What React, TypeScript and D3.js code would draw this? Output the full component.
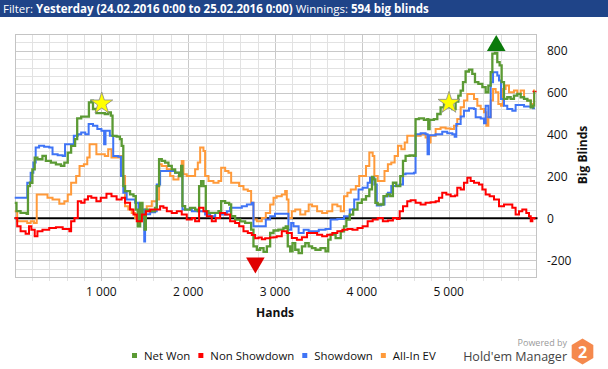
import React, { useEffect, useRef } from 'react';
import * as d3 from 'd3';

// hands played -> big blinds
const netWon: [number, number][] = [
  [0, 74], [23, 34], [70, 26], [140, 22], [155, 154], [178, 170], [206, 234], [233, 290], [264, 282], [322, 298],
  [361, 274], [419, 266], [477, 258], [535, 250], [574, 266], [613, 314], [652, 346], [698, 378], [722, 477], [768, 486],
  [826, 486], [857, 554], [885, 562], [904, 522], [943, 502], [993, 502], [1040, 498], [1079, 506], [1110, 490], [1129, 394],
  [1176, 390], [1214, 378], [1234, 346], [1253, 154], [1273, 130], [1331, 114], [1370, 106], [1397, 42], [1420, -38], [1447, 74],
  [1474, 10], [1498, -54], [1513, 42], [1542, 34], [1619, 50], [1638, 154], [1665, 282], [1696, 274], [1734, 266], [1773, 250],
  [1811, 234], [1850, 218], [1896, 202], [1919, 250], [1934, 58], [1965, 42], [2022, 50], [2080, 42], [2111, 34], [2126, 154],
  [2149, 178], [2176, 154], [2203, 34], [2234, 26], [2291, 26], [2349, 34], [2380, 82], [2426, 74], [2472, 66], [2495, 10],
  [2541, -6], [2599, -14], [2656, -22], [2702, -22], [2725, -54], [2752, -134], [2791, -150], [2829, -142], [2868, -160], [2906, -134],
  [2944, -70], [2983, -58], [3039, -54], [3097, -46], [3124, -38], [3147, -134], [3175, -158], [3202, -118], [3233, -150], [3272, -166],
  [3310, -134], [3349, -118], [3388, -134], [3427, -142], [3466, -150], [3524, -142], [3582, -158], [3613, -102], [3640, -78], [3698, -94],
  [3757, -62], [3795, -38], [3822, -6], [3861, 18], [3900, 42], [3950, 74], [4000, 90], [4048, 106], [4086, 138], [4117, 198],
  [4133, 186], [4156, 74], [4183, 66], [4222, 66], [4249, 106], [4288, 114], [4327, 106], [4358, 170], [4397, 154], [4428, 154],
  [4443, 202], [4474, 274], [4504, 298], [4550, 300], [4600, 298], [4619, 474], [4658, 477], [4715, 470], [4754, 474], [4765, 426],
  [4780, 470], [4830, 474], [4869, 498], [4907, 530], [4946, 546], [5003, 530], [5042, 522], [5080, 557], [5111, 586], [5138, 610],
  [5165, 650], [5195, 701], [5234, 710], [5272, 690], [5303, 650], [5342, 642], [5388, 626], [5426, 602], [5457, 634], [5484, 698],
  [5503, 786], [5533, 790], [5560, 746], [5587, 730], [5610, 650], [5637, 570], [5675, 578], [5714, 570], [5752, 586], [5791, 594],
  [5829, 578], [5868, 570], [5906, 562], [5945, 530], [5972, 538], [5987, 602], [5995, 602],
];

const nonShowdown: [number, number][] = [
  [0, 2], [31, -38], [70, -62], [128, -74], [167, -38], [194, -54], [233, -86], [264, -62], [322, -54], [400, -46],
  [477, -42], [555, -51], [632, -62], [652, -14], [691, 2], [729, 82], [768, 74], [807, 90], [846, 106], [885, 98],
  [943, 82], [993, 98], [1059, 118], [1117, 106], [1176, 90], [1234, 98], [1273, 74], [1331, 42], [1370, 18], [1408, -14],
  [1467, 18], [1513, 34], [1562, 42], [1619, 42], [1677, 58], [1715, 50], [1754, 34], [1811, 26], [1869, 34], [1926, 18],
  [1984, -6], [2042, 2], [2080, -14], [2126, 50], [2176, 34], [2215, 10], [2272, -14], [2318, 2], [2368, 26], [2426, 18],
  [2483, -14], [2541, -22], [2587, -38], [2637, -62], [2687, -70], [2733, -80], [2771, -95], [2810, -92], [2848, -100], [2887, -95],
  [2944, -92], [2983, -90], [3019, -86], [3078, -62], [3136, -70], [3194, -94], [3252, -102], [3310, -90], [3369, -70], [3427, -70],
  [3485, -78], [3543, -86], [3601, -78], [3660, -70], [3718, -62], [3776, -54], [3834, -51], [3892, -54], [3950, -46], [4009, -38],
  [4067, -14], [4125, -6], [4183, 2], [4242, -14], [4300, -10], [4358, 2], [4405, -3], [4436, 34], [4474, 58], [4523, 82],
  [4562, 86], [4619, 74], [4677, 66], [4734, 74], [4792, 77], [4850, 82], [4888, 98], [4926, 122], [4973, 114], [5023, 106],
  [5073, 109], [5099, 146], [5138, 138], [5176, 170], [5215, 194], [5253, 178], [5292, 170], [5349, 162], [5388, 138], [5426, 114],
  [5472, 106], [5522, 90], [5580, 58], [5637, 66], [5687, 66], [5733, 50], [5771, 18], [5810, 34], [5848, 42], [5894, 26],
  [5925, 10], [5945, -14], [5964, 2], [5994, -6],
];

const showdown: [number, number][] = [
  [0, 98], [128, 98], [147, 170], [186, 218], [217, 266], [244, 338], [283, 346], [341, 342], [400, 338], [438, 306],
  [497, 301], [555, 298], [582, 354], [660, 354], [683, 394], [729, 402], [768, 410], [815, 402], [854, 450], [904, 442],
  [954, 426], [1001, 418], [1032, 354], [1048, 418], [1098, 394], [1137, 298], [1195, 294], [1226, 202], [1253, 122], [1292, 90],
  [1350, 90], [1389, 74], [1428, 34], [1467, 42], [1494, -110], [1504, 20], [1562, 29], [1619, 34], [1638, 162], [1677, 226],
  [1734, 226], [1792, 226], [1850, 218], [1907, 214], [1934, 42], [2042, 34], [2138, 34], [2195, 18], [2253, 10], [2311, 26],
  [2368, 18], [2445, 34], [2483, 50], [2541, 50], [2618, 58], [2676, 66], [2733, 74], [2752, -38], [2791, -38], [2848, -38],
  [2894, -6], [2944, 10], [3000, 22], [3136, 22], [3155, -54], [3186, -22], [3213, -38], [3272, -70], [3330, -54], [3388, -62],
  [3446, -62], [3504, -54], [3582, -51], [3640, -6], [3718, -3], [3795, 10], [3861, 42], [3912, 90], [3962, 138], [4009, 146],
  [4067, 170], [4094, 194], [4144, 162], [4172, 61], [4222, 66], [4261, 106], [4300, 122], [4339, 154], [4397, 157], [4436, 162],
  [4474, 210], [4504, 214], [4600, 218], [4619, 402], [4677, 406], [4734, 402], [4757, 306], [4773, 397], [4850, 402], [4926, 413],
  [4984, 406], [5042, 402], [5069, 390], [5088, 450], [5138, 486], [5176, 514], [5234, 526], [5292, 522], [5311, 482], [5369, 477],
  [5407, 454], [5426, 538], [5457, 482], [5484, 650], [5511, 698], [5560, 682], [5580, 658], [5603, 570], [5637, 538], [5675, 522],
  [5733, 514], [5771, 541], [5829, 541], [5868, 534], [5945, 530], [5972, 525], [5995, 525],
];

const allInEv: [number, number][] = [
  [0, 34], [31, -14], [89, -14], [147, -22], [186, -14], [225, -22], [256, 114], [322, 114], [380, 98], [438, 90],
  [516, 70], [574, 82], [613, 114], [652, 170], [710, 202], [749, 250], [799, 258], [838, 290], [865, 354], [904, 354],
  [943, 306], [993, 306], [1040, 298], [1079, 330], [1117, 290], [1176, 290], [1214, 298], [1234, 202], [1273, 58], [1311, 42],
  [1350, 26], [1389, 2], [1428, -14], [1467, 10], [1506, 42], [1523, 58], [1581, 82], [1638, 90], [1665, 258], [1696, 250],
  [1754, 234], [1792, 202], [1830, 186], [1888, 202], [1926, 274], [1946, 210], [1984, 202], [2042, 202], [2080, 234], [2111, 266],
  [2138, 338], [2176, 322], [2195, 202], [2234, 178], [2291, 170], [2349, 178], [2380, 242], [2426, 226], [2464, 218], [2495, 170],
  [2541, 170], [2587, 154], [2637, 138], [2687, 130], [2725, 74], [2752, -6], [2791, -14], [2848, 2], [2894, 26], [2944, 66],
  [2983, 98], [3019, 106], [3078, 114], [3117, 130], [3136, 90], [3155, 2], [3194, 34], [3233, 42], [3291, 18], [3349, 34],
  [3388, 66], [3427, 58], [3485, 34], [3543, 26], [3601, 34], [3660, 66], [3718, 58], [3757, 34], [3795, 106], [3834, 122],
  [3873, 138], [3931, 154], [3970, 202], [4048, 250], [4086, 314], [4125, 298], [4144, 202], [4183, 178], [4222, 178], [4261, 226],
  [4300, 258], [4339, 266], [4378, 298], [4416, 346], [4455, 330], [4494, 362], [4523, 394], [4600, 394], [4677, 402], [4734, 386],
  [4757, 362], [4792, 394], [4850, 426], [4907, 434], [4965, 429], [5023, 426], [5061, 442], [5099, 474], [5138, 530], [5176, 562],
  [5215, 594], [5253, 594], [5292, 570], [5330, 538], [5369, 522], [5407, 506], [5434, 442], [5457, 482], [5484, 562], [5511, 618],
  [5541, 602], [5572, 546], [5603, 538], [5626, 618], [5656, 634], [5695, 602], [5752, 610], [5791, 594], [5829, 610], [5868, 570],
  [5906, 562], [5945, 546], [5983, 610], [5995, 610],
];

const xTicks = [1000, 2000, 3000, 4000, 5000];
const yTicks = [-200, 0, 200, 400, 600, 800];
const legendLabels = ['Net Won', 'Non Showdown', 'Showdown', 'All-In EV'];
const seriesColors = ['#5b9a34', '#ff0000', '#3f74f6', '#ff9a3a'];

// star = notable session point, max / min = best and worst Net Won
const markers = [
  { kind: 'star', hand: 1005, value: 548 },
  { kind: 'star', hand: 5004, value: 551 },
  { kind: 'max', hand: 5548, value: 824 },
  { kind: 'min', hand: 2774, value: -212 },
];

const FONT = '"Open Sans", "Noto Sans", sans-serif';

export default function App() {
  const ref = useRef<SVGSVGElement>(null);

  useEffect(() => {
    const svg = d3.select(ref.current);
    svg.selectAll('*').remove();

    const width = 608, height = 369;
    const left = 14.5, right = 535.5, top = 34, bottom = 277;

    const x = d3.scaleLinear().domain([0, 6000]).range([left, right]);
    const y = d3.scaleLinear().domain([-280, 880]).range([bottom, top]);

    svg.append('rect').attr('width', width).attr('height', height).attr('fill', '#fff');

    // header bar
    svg.append('rect').attr('width', width).attr('height', 17).attr('fill', '#1f4488');
    const head = svg.append('text')
      .attr('x', 3).attr('y', 13)
      .attr('fill', '#fff').style('font-family', FONT).style('font-size', '11.5px');
    head.append('tspan').text('Filter: ');
    head.append('tspan').attr('font-weight', 'bold').text('Yesterday (24.02.2016 0:00 to 25.02.2016 0:00)');
    head.append('tspan').text(' Winnings: ');
    head.append('tspan').attr('font-weight', 'bold').text('594 big blinds');

    // grid
    const grid = svg.append('g').attr('shape-rendering', 'crispEdges');
    const xMinor = d3.range(200, 6000, 200);
    grid.selectAll('.vx')
      .data(xMinor)
      .enter()
      .append('line')
        .attr('x1', (d) => Math.round(x(d)) + 0.5)
        .attr('x2', (d) => Math.round(x(d)) + 0.5)
        .attr('y1', top)
        .attr('y2', bottom + 4)
        .attr('stroke', (d) => (d % 1000 === 0 ? '#c9c9c9' : '#e2e2e2'));
    const yMinor = d3.range(-240, 880, 40);
    grid.selectAll('.hy')
      .data(yMinor)
      .enter()
      .append('line')
        .attr('x1', left)
        .attr('x2', right)
        .attr('y1', (d) => Math.round(y(d)) + 0.5)
        .attr('y2', (d) => Math.round(y(d)) + 0.5)
        .attr('stroke', (d) => (d % 200 === 0 ? '#c9c9c9' : '#e2e2e2'));
    grid.append('rect')
      .attr('x', Math.round(left) + 0.5).attr('y', Math.round(top) + 0.5)
      .attr('width', Math.round(right) - Math.round(left)).attr('height', Math.round(bottom) - Math.round(top))
      .attr('fill', 'none').attr('stroke', '#c4c4c4');

    // clip
    svg.append('clipPath').attr('id', 'plotclip')
      .append('rect').attr('x', left).attr('y', top).attr('width', right - left).attr('height', bottom - top);

    // zero line
    svg.append('line')
      .attr('x1', left).attr('x2', right + 2)
      .attr('y1', y(0)).attr('y2', y(0))
      .attr('stroke', '#000').attr('stroke-width', 2);

    const line = d3.line<[number, number]>()
      .x((d) => x(d[0]))
      .y((d) => y(d[1]))
      .curve(d3.curveStepAfter);

    const plot = svg.append('g').attr('clip-path', 'url(#plotclip)');
    const series = [allInEv, showdown, netWon, nonShowdown];
    const colorOf = [seriesColors[3], seriesColors[2], seriesColors[0], seriesColors[1]];
    series.forEach((s, i) => {
      plot.append('path')
        .attr('d', line(s))
        .attr('fill', 'none')
        .attr('stroke', colorOf[i])
        .attr('stroke-width', i === 2 ? 2.3 : 2)
        .attr('stroke-linejoin', 'miter');
    });

    // small current-value flag at the right edge
    svg.append('line')
      .attr('x1', right - 3).attr('x2', right + 2)
      .attr('y1', y(605)).attr('y2', y(605))
      .attr('stroke', '#ff0000').attr('stroke-width', 1.5).attr('stroke-dasharray', '1.5,1');

    // markers
    const star = d3.symbol().type(d3.symbolStar).size(150);
    const tri = d3.symbol().type(d3.symbolTriangle).size(150);
    markers.forEach((m) => {
      const g = svg.append('g').attr('transform', `translate(${x(m.hand)},${y(m.value)})`);
      if (m.kind === 'star') {
        g.append('path').attr('d', star()).attr('fill', '#ffff00').attr('stroke', '#888').attr('stroke-width', 0.8);
      } else if (m.kind === 'max') {
        g.append('path').attr('d', tri()).attr('fill', '#0a7a0a');
      } else {
        g.append('path').attr('d', tri()).attr('transform', 'rotate(180)').attr('fill', '#e00000');
      }
    });

    // x axis labels
    svg.selectAll('.xt')
      .data(xTicks)
      .enter()
      .append('text')
        .attr('x', (d) => x(d))
        .attr('y', 296)
        .attr('text-anchor', 'middle')
        .style('font-family', FONT).style('font-size', '12px')
        .attr('fill', '#111')
        .text((d) => d3.format(',')(d).replace(',', ' '));

    svg.append('text')
      .attr('x', (left + right) / 2).attr('y', 317)
      .attr('text-anchor', 'middle')
      .style('font-family', FONT).style('font-size', '12px').style('font-weight', 'bold')
      .attr('fill', '#111')
      .text('Hands');

    // y axis labels (right)
    svg.selectAll('.yt')
      .data(yTicks)
      .enter()
      .append('text')
        .attr('x', 547)
        .attr('y', (d) => y(d))
        .attr('dy', '0.36em')
        .style('font-family', FONT).style('font-size', '12px')
        .attr('fill', '#111')
        .text((d) => String(d));

    svg.append('text')
      .attr('transform', 'translate(587,155) rotate(-90)')
      .attr('text-anchor', 'middle')
      .style('font-family', FONT).style('font-size', '12px').style('font-weight', 'bold')
      .attr('fill', '#111')
      .text('Big Blinds');

    // legend
    let lx = 132;
    legendLabels.forEach((label, i) => {
      svg.append('rect')
        .attr('x', lx).attr('y', 353).attr('width', 5).attr('height', 5)
        .attr('fill', seriesColors[i]);
      const t = svg.append('text')
        .attr('x', lx + 12).attr('y', 360)
        .style('font-family', FONT).style('font-size', '11.4px')
        .attr('fill', '#111')
        .text(label);
      const w = (t.node() as SVGTextElement).getComputedTextLength();
      lx += 12 + w + 8;
    });

    // branding
    svg.append('text')
      .attr('x', 567).attr('y', 345.5).attr('text-anchor', 'end')
      .style('font-family', FONT).style('font-size', '9px')
      .attr('fill', '#9a9a9a')
      .text('Powered by');
    svg.append('text')
      .attr('x', 567).attr('y', 361).attr('text-anchor', 'end')
      .style('font-family', FONT).style('font-size', '12.5px')
      .attr('fill', '#444')
      .text("Hold'em Manager");
    const hex = d3.range(6).map((k) => {
      const a = Math.PI / 3 * k - Math.PI / 2;
      return [582.5 + 12.5 * Math.cos(a), 351.5 + 13 * Math.sin(a)] as [number, number];
    });
    svg.append('polygon')
      .attr('points', hex.map((p) => p.join(',')).join(' '))
      .attr('fill', '#f5894d');
    svg.append('text')
      .attr('x', 582.5).attr('y', 357.5).attr('text-anchor', 'middle')
      .style('font-family', FONT).style('font-size', '16px').style('font-weight', 'bold')
      .attr('fill', '#fff')
      .text('2');
  }, []);

  return (
    <svg
      ref={ref}
      width={608}
      height={369}
      style={{ position: 'absolute', left: 0, top: 0, display: 'block' }}
    />
  );
}
